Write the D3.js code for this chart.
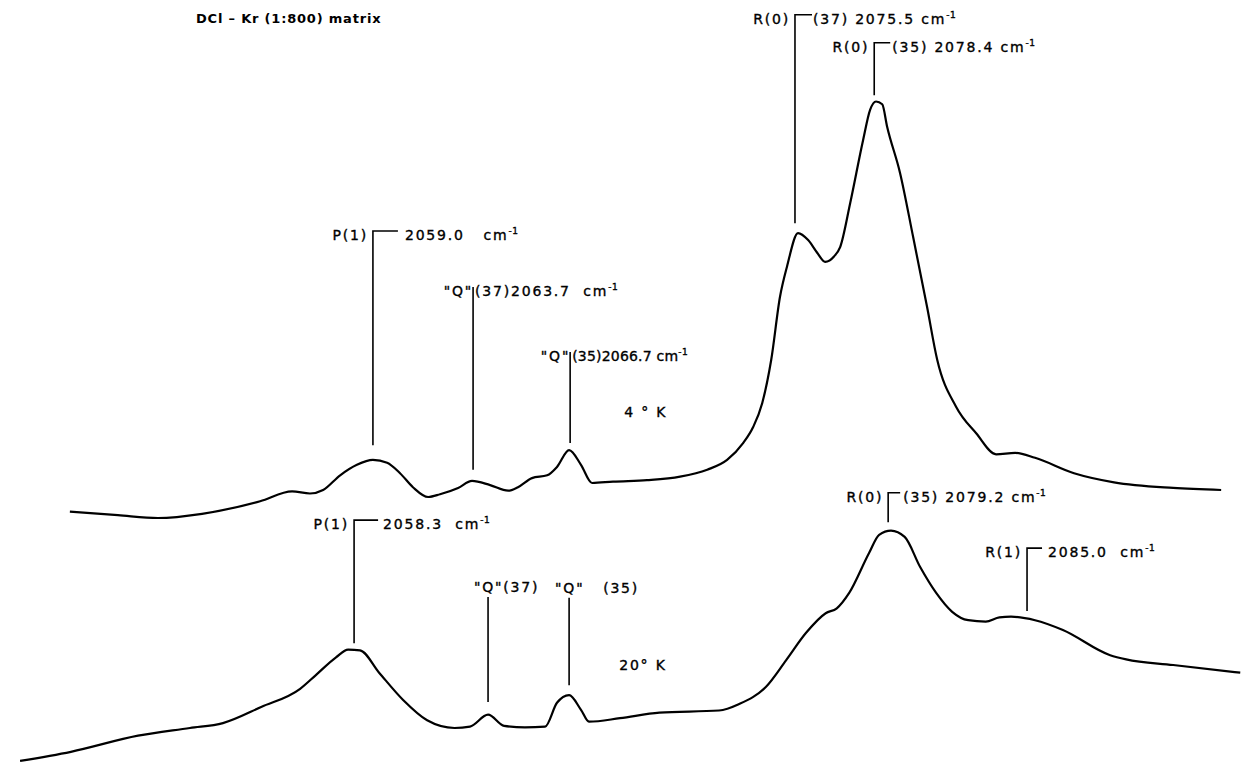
<!DOCTYPE html>
<html>
<head>
<meta charset="utf-8">
<script src="https://cdn.jsdelivr.net/npm/d3@7"></script>
<style>
  body { margin: 0; background: #fff; }
  text { font-family: "DejaVu Sans", sans-serif; fill: #000; white-space: pre; }
</style>
</head>
<body>
<div id="chart"></div>
<script>
/*global d3*/

// spectrum: wavenumber (cm-1) and absorbance (arb. units)
var wave4K = [2047.27, 2049.13, 2050.68, 2052.39, 2054.64, 2055.88, 2056.57, 2057.08, 2057.74,
  2058.39, 2059.01, 2059.56, 2060.06, 2060.56, 2061.15, 2061.61, 2062.31, 2062.85, 2063.55,
  2064.25, 2064.63, 2065.17, 2065.76, 2066.14, 2066.61, 2067.07, 2067.50, 2068.31, 2069.63,
  2070.91, 2071.96, 2072.73, 2073.35, 2073.74, 2074.09, 2074.44, 2074.78, 2075.05, 2075.48,
  2075.87, 2076.22, 2076.53, 2076.88, 2077.11, 2077.50, 2078.00, 2078.27, 2078.50, 2078.74,
  2078.93, 2079.43, 2079.94, 2080.48, 2080.87, 2081.60, 2082.38, 2083.15, 2083.89, 2084.66,
  2086.17, 2087.72, 2090.01, 2091.87];
var abs4K = [36.9, 36.4, 36.0, 36.6, 38.4, 39.8, 39.5, 40.0, 42.1,
  43.6, 44.3, 43.9, 42.4, 40.4, 39.0, 39.4, 40.3, 41.3, 40.7,
  39.9, 40.4, 41.7, 42.1, 43.3, 45.7, 43.6, 41.0, 41.2, 41.4,
  41.9, 42.9, 44.3, 46.7, 49.0, 52.4, 58.6, 67.6, 71.9, 76.7,
  75.7, 73.9, 72.6, 73.4, 74.7, 81.0, 90.0, 94.3, 95.5, 95.1,
  91.9, 85.3, 76.1, 66.1, 58.6, 51.9, 48.1, 45.1, 45.3, 44.6,
  42.4, 41.1, 40.3, 40.0];

var wave20K = [2045.34, 2047.31, 2049.91, 2051.92, 2053.20, 2054.68, 2056.19, 2056.81, 2057.58, 2058.05,
  2058.51, 2059.25, 2060.18, 2061.11, 2062.17, 2062.77, 2063.47, 2064.09, 2064.90, 2065.68, 2066.14,
  2066.61, 2067.07, 2067.38, 2068.58, 2070.11, 2072.42, 2073.18, 2074.24, 2075.02, 2075.79,
  2076.55, 2076.98, 2077.46, 2078.23, 2078.62, 2079.08, 2079.61, 2080.21, 2080.83, 2081.45,
  2082.07, 2082.75, 2083.28, 2083.73, 2084.66, 2085.74, 2087.57, 2088.19, 2090.01, 2092.61];
var abs20K = [1.3, 2.6, 4.9, 6.0, 6.7, 9.0, 11.6, 13.6, 16.1, 17.2,
  17.1, 13.9, 10.0, 7.1, 6.0, 6.2, 7.9, 6.3, 6.1, 6.2, 9.6,
  10.7, 8.6, 6.9, 7.4, 8.2, 8.5, 9.4, 11.9, 15.7, 19.6,
  22.4, 23.1, 25.3, 31.0, 33.6, 34.2, 33.3, 29.0, 25.3, 22.6,
  21.4, 21.2, 21.8, 21.9, 21.4, 20.0, 16.4, 15.8, 15.0, 13.9];

// peak assignments: position, where the leader starts (just above the peak) and ends
var peaks4K = [
  {w: 2059.01, lo: 46.4, hi: 77.0, left: "P(1)", right: "2059.0   cm", tick: 25, gap: 7},
  {w: 2062.89, lo: 42.9, hi: 69.0, left: "\"Q\"", right: "(37)2063.7  cm", tick: 0, gap: 2},
  {w: 2066.65, lo: 46.7, hi: 59.7, left: "\"Q\"", right: "(35)2066.7 cm", tick: 0, gap: 2, tight: true},
  {w: 2075.36, lo: 78.1, hi: 107.9, left: "R(0)", right: "(37) 2075.5 cm", tick: 17, gap: 1},
  {w: 2078.43, lo: 96.4, hi: 103.9, left: "R(0)", right: "(35) 2078.4 cm", tick: 16, gap: 2}
];
var peaks20K = [
  {w: 2058.28, lo: 18.1, hi: 35.7, left: "P(1)", right: "2058.3  cm", tick: 24, gap: 5},
  {w: 2078.97, lo: 35.4, hi: 39.6, left: "R(0)", right: "(35) 2079.2 cm", tick: 12, gap: 3},
  {w: 2084.35, lo: 22.7, hi: 31.7, left: "R(1)", right: "2085.0  cm", tick: 15, gap: 6}
];
// the two weak "Q" bands of the 20 K trace carry their label on top
var qBands20K = [
  {w: 2063.47, lo: 9.7, hi: 24.7, text: "\"Q\"(37)"},
  {w: 2066.61, lo: 12.1, hi: 24.6, text: "\"Q\"   (35)"}
];
var tempLabels = [
  {w: 2068.75, v: 51.1, text: "4 ° K"},
  {w: 2068.55, v: 15.0, text: "20° K"}
];
var title = "DCl – Kr (1:800) matrix";

var width = 1241, height = 762;

var svg = d3.select("#chart")
  .append("svg")
  .attr("width", width)
  .attr("height", height)
  .style("background", "#fff");

var x = d3.scaleLinear()
  .domain([2046.5, 2092.6])
  .range([50, 1240]);

var y = d3.scaleLinear()
  .domain([0, 100])
  .range([770, 70]);

var line = d3.line()
  .x(function(d) { return x(d[0]); })
  .y(function(d) { return y(d[1]); })
  .curve(d3.curveMonotoneX);

[[wave4K, abs4K], [wave20K, abs20K]].forEach(function(s) {
  svg.append("path")
    .datum(d3.zip(s[0], s[1]))
    .attr("fill", "none")
    .attr("stroke", "#000")
    .attr("stroke-width", 2.2)
    .attr("stroke-linejoin", "round")
    .attr("d", line);
});

var fs = 14, ls = 1.8;

// lettering in the original is a little heavier than the screen font
function ink(sel) {
  sel.attr("font-size", fs)
    .attr("letter-spacing", ls)
    .attr("stroke", "#000")
    .attr("stroke-width", 0.35);
}

function drawPeaks(data) {
  var g = svg.append("g").selectAll("g")
    .data(data)
    .join("g");

  // leader: vertical line from peak up, then a short horizontal tick
  g.append("path")
    .attr("fill", "none")
    .attr("stroke", "#000")
    .attr("stroke-width", 1.6)
    .attr("d", function(d) {
      var px = x(d.w);
      return "M" + px + "," + y(d.lo) + "V" + y(d.hi) + (d.tick ? "h" + d.tick : "");
    });

  g.append("text")
    .attr("x", function(d) { return x(d.w) - (d.left === "\"Q\"" ? 0 : 5); })
    .attr("y", function(d) { return y(d.hi) + 9; })
    .attr("text-anchor", "end")
    .call(ink)
    .text(function(d) { return d.left; });

  var t = g.append("text")
    .attr("x", function(d) { return x(d.w) + d.tick + d.gap; })
    .attr("y", function(d) { return y(d.hi) + 9; })
    .call(ink)
    .attr("letter-spacing", function(d) { return d.tight ? 0.2 : ls; });
  t.append("tspan").text(function(d) { return d.right; });
  t.append("tspan")
    .attr("dy", -6)
    .attr("font-size", 9)
    .attr("letter-spacing", 0.5)
    .text("-1");
}

drawPeaks(peaks4K);
drawPeaks(peaks20K);

var q = svg.append("g").selectAll("g")
  .data(qBands20K)
  .join("g");
q.append("line")
  .attr("x1", function(d) { return x(d.w); })
  .attr("x2", function(d) { return x(d.w); })
  .attr("y1", function(d) { return y(d.lo); })
  .attr("y2", function(d) { return y(d.hi); })
  .attr("stroke", "#000")
  .attr("stroke-width", 1.6);
q.append("text")
  .attr("x", function(d) { return x(d.w) - 14; })
  .attr("y", function(d) { return y(d.hi) - 5; })
  .call(ink)
  .text(function(d) { return d.text; });

svg.append("g").selectAll("text")
  .data(tempLabels)
  .join("text")
  .attr("x", function(d) { return x(d.w); })
  .attr("y", function(d) { return y(d.v); })
  .attr("dy", "0.35em")
  .call(ink)
  .text(function(d) { return d.text; });

svg.append("text")
  .attr("x", 196)
  .attr("y", 23)
  .attr("font-size", 13)
  .attr("font-weight", "bold")
  .attr("letter-spacing", 0.8)
  .text(title);
</script>
</body>
</html>
